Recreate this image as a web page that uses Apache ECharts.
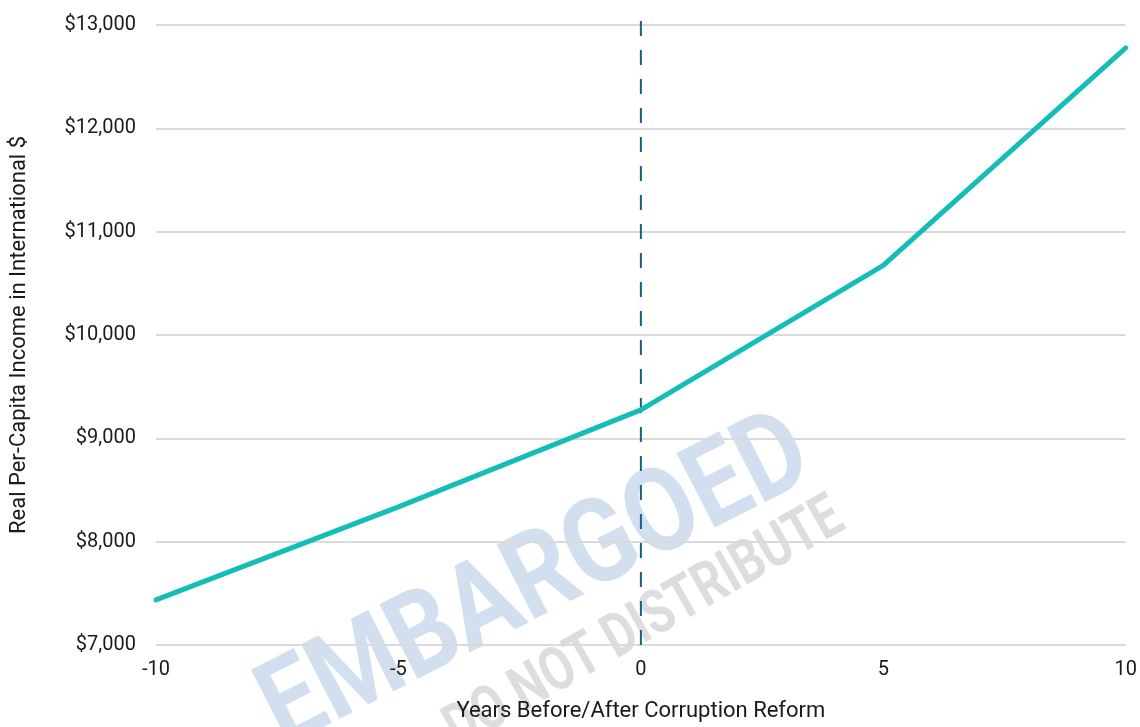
<!DOCTYPE html>
<html>
<head>
<meta charset="utf-8">
<script src="https://cdn.jsdelivr.net/npm/echarts@6/dist/echarts.min.js"></script>
<style>
  html, body { margin: 0; padding: 0; background: #fff; }
  #chart { width: 1140px; height: 727px; }
</style>
</head>
<body>
<div id="chart"></div>
<script>
// years relative to the reform, and income at each
const years = [-10, -5, 0, 5, 10];
const income = [7436, 8336, 9276, 10673, 12778];
const xTicks = [-10, -5, 0, 5, 10];
const reformYear = 0;
const reformSpan = [7000, 13140];

const chart = echarts.init(document.getElementById('chart'));

chart.setOption({
  animation: false,
  textStyle: { fontFamily: 'Roboto' },
  grid: { left: 155, right: 14, top: 25, bottom: 79 },
  graphic: [
    {
      type: 'text', z: 0,
      x: 537, y: 585, rotation: 27 * Math.PI / 180,
      scaleX: 0.85,
      style: {
        text: 'EMBARGOED', fill: 'rgba(178,202,229,0.6)',
        font: 'bold 118px Roboto', align: 'center', verticalAlign: 'middle'
      }
    },
    {
      type: 'text', z: 0,
      x: 645, y: 625, rotation: 29.6 * Math.PI / 180,
      scaleX: 0.78,
      style: {
        text: 'DO NOT DISTRIBUTE', fill: 'rgba(175,175,175,0.42)',
        font: 'bold 61px Roboto', align: 'center', verticalAlign: 'middle'
      }
    }
  ],
  xAxis: {
    type: 'value',
    min: -10, max: 10, interval: 5,
    name: 'Years Before/After Corruption Reform',
    nameLocation: 'middle', nameGap: 55,
    nameTextStyle: { fontSize: 22, color: '#1a1a1a' },
    axisLine: { show: false },
    axisTick: { show: false },
    splitLine: { show: false },
    axisLabel: {
      fontSize: 20, color: '#1a1a1a', margin: 15,
      formatter: v => xTicks.includes(v) ? String(v) : ''
    }
  },
  yAxis: {
    type: 'value',
    min: 7000, max: 13000, interval: 1000,
    name: 'Real Per-Capita Income in International $',
    nameLocation: 'middle', nameGap: 126,
    nameTextStyle: { fontSize: 22, color: '#1a1a1a' },
    axisLine: { show: false },
    axisTick: { show: false },
    splitLine: { lineStyle: { color: '#dadada', width: 2 } },
    axisLabel: {
      fontSize: 20, color: '#1a1a1a', margin: 20,
      formatter: v => '$' + v.toLocaleString('en-US')
    }
  },
  series: [
    {
      type: 'line',
      data: reformSpan.map(v => [reformYear, v]),
      symbol: 'none', clip: false, z: 3,
      lineStyle: { color: '#1d5f82', width: 2, type: [15, 14] }
    },
    {
      type: 'line',
      data: years.map((x, i) => [x, income[i]]),
      symbol: 'none', z: 4,
      lineStyle: { color: '#13bdb8', width: 5, cap: 'round', join: 'round' }
    }
  ]
});
</script>
</body>
</html>
